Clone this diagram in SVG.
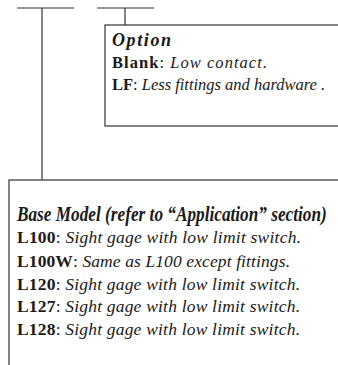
<svg xmlns="http://www.w3.org/2000/svg" width="338" height="365" viewBox="0 0 338 365">
<style>
.box{fill:#fff;stroke:#333;stroke-width:1.2}
.ln{stroke:#333;stroke-width:1.2;fill:none}
text{font-family:"Liberation Serif","Times New Roman",serif;fill:#1a1a1a}
.h{font-weight:bold;font-style:italic}
.b{font-weight:bold}
.i{font-style:italic}
.o{font-size:16.5px}
.l{font-size:17.5px}
</style>
<rect width="338" height="365" fill="#fff"/>
<g id="connectors">
<line class="ln" x1="17" y1="8" x2="74" y2="8"/>
<line class="ln" x1="42" y1="8" x2="42" y2="180"/>
<line class="ln" x1="97" y1="8" x2="154" y2="8"/>
<line class="ln" x1="125" y1="8" x2="125" y2="25"/>
</g>
<g id="option">
<rect class="box" x="105" y="25" width="240" height="101"/>
<text class="h" x="112" y="46" font-size="18" textLength="59" lengthAdjust="spacing">Option</text>
<text class="o" x="112" y="68" textLength="155" lengthAdjust="spacing"><tspan class="b">Blank</tspan>: <tspan class="i">Low contact.</tspan></text>
<text class="o" x="112" y="90" textLength="213" lengthAdjust="spacing"><tspan class="b">LF</tspan>: <tspan class="i">Less fittings and hardware .</tspan></text>
</g>
<g id="base-model">
<rect class="box" x="9" y="180" width="340" height="200"/>
<text class="h" transform="translate(17 221) scale(0.88 1)" x="0" y="0" font-size="20" textLength="352" lengthAdjust="spacingAndGlyphs">Base Model (refer to “Application” section)</text>
<text class="l" x="17" y="243" textLength="284" lengthAdjust="spacing"><tspan class="b">L100</tspan>: <tspan class="i">Sight gage with low limit switch.</tspan></text>
<text class="l" x="17" y="267" textLength="273" lengthAdjust="spacing"><tspan class="b">L100W</tspan>: <tspan class="i">Same as L100 except fittings.</tspan></text>
<text class="l" x="17" y="290" textLength="283" lengthAdjust="spacing"><tspan class="b">L120</tspan>: <tspan class="i">Sight gage with low limit switch.</tspan></text>
<text class="l" x="17" y="312" textLength="283" lengthAdjust="spacing"><tspan class="b">L127</tspan>: <tspan class="i">Sight gage with low limit switch.</tspan></text>
<text class="l" x="17" y="335" textLength="283" lengthAdjust="spacing"><tspan class="b">L128</tspan>: <tspan class="i">Sight gage with low limit switch.</tspan></text>
</g>
</svg>
